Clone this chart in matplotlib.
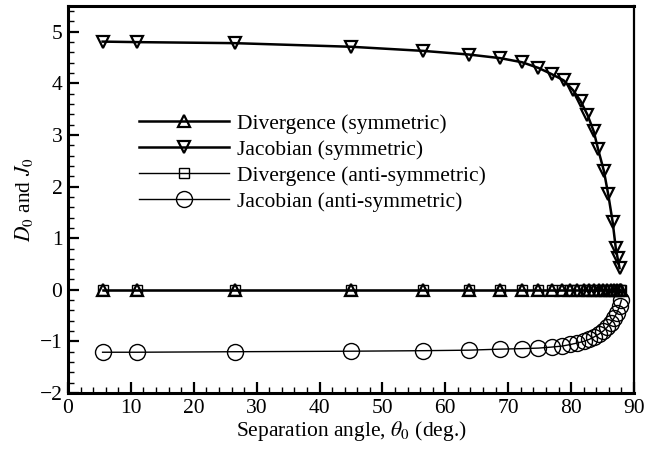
import numpy as np
import matplotlib
matplotlib.use("Agg")
import matplotlib.pyplot as plt

plt.rcParams["font.family"] = "Liberation Serif"
plt.rcParams["mathtext.fontset"] = "stix"

# Symmetric solutions
theta_sym = [5.5, 11, 26.5, 45, 56.5, 63.7, 68.7, 72.2, 74.8, 76.9, 78.8, 80.3,
             81.5, 82.6, 83.6, 84.3, 85.2, 85.9, 86.6, 87.1, 87.4, 87.7]
jac_sym = [4.81, 4.80, 4.78, 4.71, 4.63, 4.56, 4.49, 4.41, 4.30, 4.18, 4.06, 3.87,
           3.66, 3.39, 3.07, 2.72, 2.31, 1.85, 1.32, 0.81, 0.61, 0.42]

# Anti-symmetric solutions
theta_anti = [5.5, 11, 26.5, 45, 56.5, 63.7, 68.7, 72.2, 74.8, 76.9, 78.6, 79.9,
              81.0, 82.0, 82.9, 83.7, 84.4, 85.1, 85.7, 86.3, 86.8, 87.3, 87.7, 88.0]
jac_anti = [-1.21, -1.21, -1.20, -1.19, -1.18, -1.17, -1.15, -1.14, -1.13, -1.11, -1.09, -1.06,
            -1.03, -1.00, -0.96, -0.91, -0.86, -0.80, -0.73, -0.64, -0.55, -0.44, -0.32, -0.20]

div_sym = [0.0] * len(theta_anti)
div_anti = [0.0] * len(theta_anti)

fs = 15.5

fig = plt.figure(figsize=(6.46, 4.53), dpi=100)
ax = fig.add_axes([68 / 646, 60 / 453, 566 / 646, 387 / 453])

ax.plot(theta_anti, div_anti, "-", color="black", lw=1.0, marker="s", ms=6.5,
        mfc="none", mec="black", mew=1.0, label="Divergence (anti-symmetric)")
ax.plot(theta_anti, jac_anti, "-", color="black", lw=1.0, marker="o", ms=11.5,
        mfc="none", mec="black", mew=1.0, label="Jacobian (anti-symmetric)")
ax.plot(theta_anti, div_sym, "-", color="black", lw=1.8, marker="^", ms=8.5,
        mfc="none", mec="black", mew=1.6, label="Divergence (symmetric)")
ax.plot(theta_sym, jac_sym, "-", color="black", lw=1.8, marker="v", ms=8.5,
        mfc="none", mec="black", mew=1.6, label="Jacobian (symmetric)")

handles, labels = ax.get_legend_handles_labels()
order = [2, 3, 0, 1]
ax.legend([handles[i] for i in order], [labels[i] for i in order],
          loc="upper left", bbox_to_anchor=(0.125, 0.722), frameon=False,
          fontsize=fs, handlelength=4.2, handletextpad=0.37, labelspacing=0.28,
          borderpad=0, borderaxespad=0)

ax.set_xlim(0, 90)
ax.set_ylim(-2, 5.5)
ax.set_xticks(np.arange(0, 91, 10))
ax.set_xticks(np.arange(0, 91, 2), minor=True)
ax.set_yticks(np.arange(-2, 6, 1))
ax.set_yticks(np.arange(-2, 5.51, 0.2), minor=True)
ax.set_yticklabels(["\u22122", "\u22121", "0", "1", "2", "3", "4", "5"])

ax.tick_params(which="both", direction="in", labelsize=fs, color="black")
ax.tick_params(which="major", length=8, width=1.6, pad=4)
ax.tick_params(which="minor", length=4, width=1.0)
for s in ax.spines.values():
    s.set_linewidth(2.2)
ax.spines["right"].set_linewidth(1.6)

ax.set_xlabel(r"Separation angle, $\theta_0$ (deg.)", fontsize=fs, labelpad=1)
ax.set_ylabel(r"$D_0$ and $J_0$", fontsize=fs, labelpad=3)

fig.savefig("out.png", dpi=100)
